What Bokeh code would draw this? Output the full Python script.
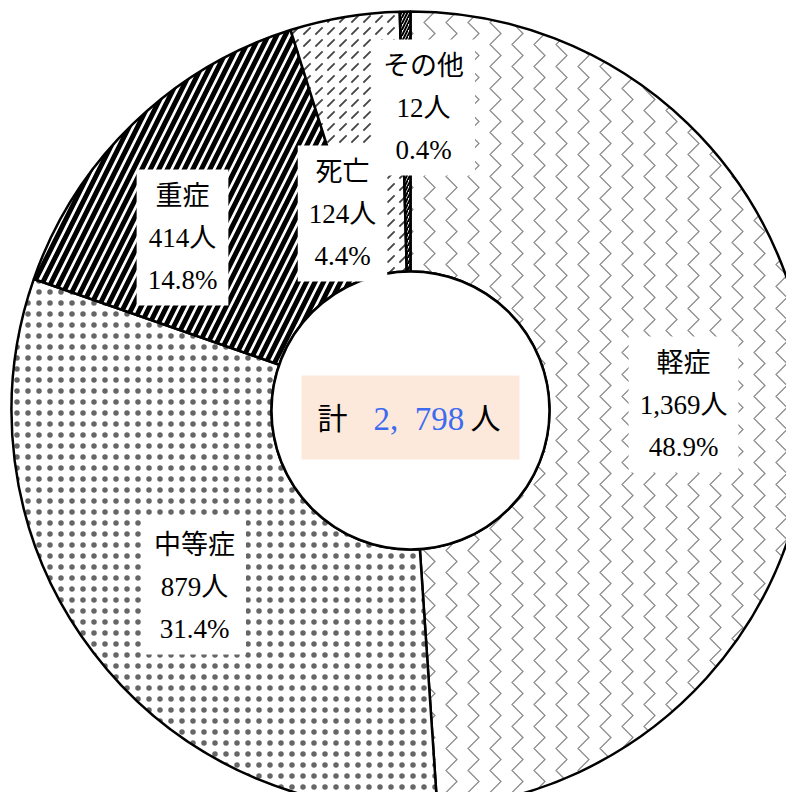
import math
from bokeh.plotting import figure
from bokeh.models import Range1d, ColumnDataSource
from bokeh.core.properties import value
from bokeh.embed import file_html
from bokeh.resources import INLINE

# ---- data ----
categories = ["軽症", "中等症", "重症", "死亡", "その他"]
counts = [1369, 879, 414, 124, 12]
unit = "人"
total_word = "計"

# ---- styles ----
hatches = ["vertical_wave", "dot", "right_diagonal_line", "right_diagonal_dash", "right_diagonal_line"]
hatch_scales = [22, 11, 17, 12, 6]
hatch_weights = [1.2, 1.4, 5.0, 1.8, 2.0]
hatch_colors = ["#888888", "#666666", "#000000", "#444444", "#000000"]
# label anchors (screen px, layout only)
label_pos = [(683, 404), (194, 586), (182, 237), (342, 213), (423, 107)]

W, H = 786, 792
p = figure(width=W, height=H, output_backend="svg", toolbar_location=None,
           x_range=Range1d(0, W), y_range=Range1d(808 - H, 808), min_border=0)
p.axis.visible = False
p.grid.visible = False
p.outline_line_color = None
p.background_fill_color = "white"

def sy(y):
    return 808 - y

CX, CY = 410, sy(410)
R_OUT, R_IN = 399, 139

total = sum(counts)
starts, ends = [], []
cum = 0
for c in counts:
    starts.append(math.pi / 2 - 2 * math.pi * cum / total)
    cum += c
    ends.append(math.pi / 2 - 2 * math.pi * cum / total)

for i in range(len(counts)):
    p.annular_wedge(x=CX, y=CY, inner_radius=R_IN, outer_radius=R_OUT,
                    start_angle=starts[i], end_angle=ends[i], direction="clock",
                    fill_color="white", line_color="black", line_width=2.5,
                    hatch_pattern=hatches[i], hatch_scale=hatch_scales[i],
                    hatch_weight=hatch_weights[i], hatch_color=hatch_colors[i])

p.circle(x=CX, y=CY, radius=R_IN, fill_color="white", line_color="black", line_width=2.5)

texts = []
for cat, c in zip(categories, counts):
    pct = 100.0 * c / total
    texts.append(f"{cat}\n{c:,}{unit}\n{pct:.1f}%")

src = ColumnDataSource(dict(x=[q[0] for q in label_pos], y=[sy(q[1]) for q in label_pos], text=texts))
FONT = value("'Liberation Serif', 'Noto Sans CJK JP'")
p.text(x="x", y="y", text="text", source=src, text_align="center", text_baseline="middle",
       text_font=FONT, text_font_size="27px", text_line_height=1.4, text_color="black",
       background_fill_color="white", padding=11)

# center box
p.rect(x=410, y=sy(417), width=218, height=84, fill_color="#FDE9DB", line_color=None)
p.text(x=[332], y=[sy(418)], text=[total_word], text_align="center", text_baseline="middle",
       text_font=FONT, text_font_size="30px", text_color="black")
p.text(x=[373], y=[sy(418)], text=[f"{total:,}".replace(",", ",\u2002")], text_align="left",
       text_baseline="middle", text_font=FONT, text_font_size="33px", text_color="#3D6BF0")
p.text(x=[470], y=[sy(418)], text=[unit], text_align="left", text_baseline="middle",
       text_font=FONT, text_font_size="30px", text_color="black")

open("out.html", "w").write(file_html(p, INLINE))
